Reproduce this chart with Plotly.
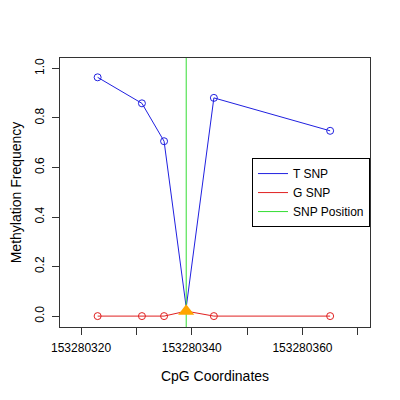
import plotly.graph_objects as go

# CpG positions and methylation frequencies
cpg_pos = [153280323, 153280331, 153280335, 153280339, 153280344, 153280365]
t_snp = [0.964, 0.859, 0.706, 0.035, 0.881, 0.748]
g_snp = [0.0, 0.0, 0.0, 0.02, 0.0, 0.0]
snp_pos = 153280339
snp_freq = 0.02

x_ticks = [153280320, 153280330, 153280340, 153280350, 153280360, 153280370]
x_labels = ["153280320", "", "153280340", "", "153280360", ""]
y_ticks = [0.0, 0.2, 0.4, 0.6, 0.8, 1.0]

x_range = [153280316.2, 153280372.2]
y_range = [-0.044, 1.042]

# circles everywhere except at the SNP itself
mk_x = [x for x in cpg_pos if x != snp_pos]
mk_t = [v for x, v in zip(cpg_pos, t_snp) if x != snp_pos]
mk_g = [v for x, v in zip(cpg_pos, g_snp) if x != snp_pos]

fig = go.Figure()
fig.add_trace(go.Scatter(x=cpg_pos, y=t_snp, mode="lines", name="T SNP",
                         line=dict(color="#2020e0", width=1)))
fig.add_trace(go.Scatter(x=cpg_pos, y=g_snp, mode="lines", name="G SNP",
                         line=dict(color="#e02020", width=1)))
fig.add_trace(go.Scatter(x=[snp_pos, snp_pos], y=[y_range[0] - 1, y_range[1] + 1], mode="lines",
                         name="SNP Position", line=dict(color="#33dd33", width=1)))
fig.add_trace(go.Scatter(x=mk_x, y=mk_t, mode="markers", showlegend=False,
                         marker=dict(symbol="circle-open", size=7, color="#2020e0", line=dict(width=1))))
fig.add_trace(go.Scatter(x=mk_x, y=mk_g, mode="markers", showlegend=False,
                         marker=dict(symbol="circle-open", size=7, color="#e02020", line=dict(width=1))))
fig.add_trace(go.Scatter(x=[snp_pos], y=[snp_freq], mode="markers", showlegend=False,
                         marker=dict(symbol="triangle-up", size=14, color="orange")))

# the page body adds an 8px offset, so the figure is 392 wide/high
axis_font = dict(family="Liberation Sans, Arial, sans-serif", size=12, color="black")
fig.update_layout(
    width=392, height=392,
    margin=dict(l=52, r=30, t=50, b=73),
    plot_bgcolor="white", paper_bgcolor="white",
    font=axis_font,
    legend=dict(x=1, y=0.628, xanchor="right", yanchor="top",
                bordercolor="black", borderwidth=1, bgcolor="white",
                font=dict(size=12), tracegroupgap=0, itemwidth=30),
)
fig.update_xaxes(range=x_range, tickvals=x_ticks, ticktext=x_labels,
                 ticks="outside", ticklen=7, tickcolor="#333", automargin=False,
                 ticklabelstandoff=3,
                 showgrid=False, zeroline=False, showline=True, linecolor="#333",
                 mirror=True, title=dict(text="CpG Coordinates", standoff=16))
fig.update_yaxes(range=y_range, tickvals=y_ticks, ticktext=[f"{v:.1f}" for v in y_ticks],
                 tickangle=-90, ticks="outside", ticklen=7, tickcolor="#333", automargin=False,
                 ticklabelstandoff=3,
                 showgrid=False, zeroline=False, showline=True, linecolor="#333",
                 mirror=True, title=dict(text="Methylation Frequency", standoff=15))

fig.write_html("out.html")
